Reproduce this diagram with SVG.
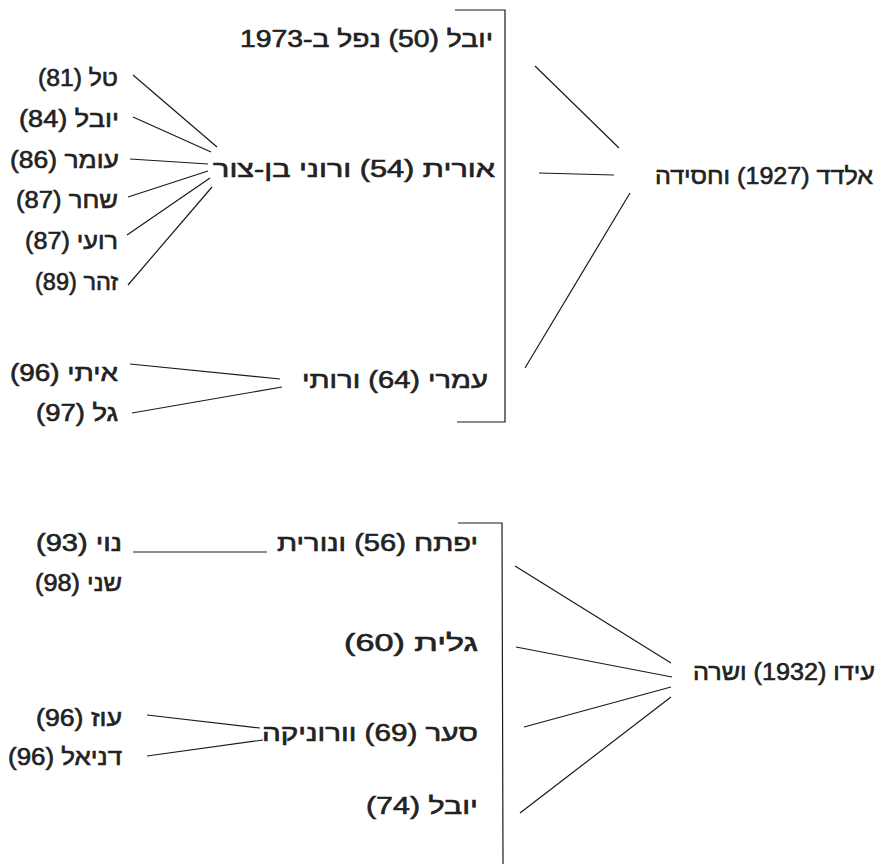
<svg xmlns="http://www.w3.org/2000/svg" width="882" height="864" viewBox="0 0 882 864">
<style>
text{font-family:"Liberation Sans","DejaVu Sans",sans-serif;font-size:23px;font-weight:normal;fill:#222;stroke:#222;stroke-width:0.6;direction:rtl;text-anchor:start;unicode-bidi:embed}
.big{font-size:24px}
line,polyline{stroke:#1a1a1a;stroke-width:1.2;fill:none}
</style>
<rect width="882" height="864" fill="#fff"/>
<g id="connectors">
<polyline points="455,10 505,10 505,422 457,422"/>
<line x1="535" y1="66" x2="619" y2="148"/>
<line x1="539" y1="173" x2="614" y2="175"/>
<line x1="525" y1="368" x2="630" y2="193"/>
<line x1="133" y1="75" x2="217" y2="147"/>
<line x1="133" y1="117" x2="211" y2="152"/>
<line x1="130" y1="159" x2="208" y2="164"/>
<line x1="128" y1="197" x2="208" y2="171"/>
<line x1="127" y1="235" x2="210" y2="178"/>
<line x1="128" y1="285" x2="212" y2="187"/>
<line x1="130" y1="364" x2="280" y2="379"/>
<line x1="132" y1="413" x2="282" y2="387"/>
<polyline points="458,523 502,523 503,864"/>
<line x1="515" y1="566" x2="671" y2="663"/>
<line x1="516" y1="647" x2="672" y2="677"/>
<line x1="524" y1="727" x2="671" y2="687"/>
<line x1="520" y1="813" x2="671" y2="697"/>
<line x1="133" y1="552" x2="267" y2="552"/>
<line x1="147" y1="715" x2="260" y2="728"/>
<line x1="147" y1="756" x2="263" y2="740"/>
</g>
<g id="n-eldad"><text x="873" y="184" class="big" textLength="218" lengthAdjust="spacingAndGlyphs">אלדד (1927) וחסידה</text></g>
<g id="n-yuval50"><text x="493" y="47" textLength="253" lengthAdjust="spacingAndGlyphs">יובל (50) נפל ב-1973</text></g>
<g id="n-orit"><text x="495" y="177" textLength="282" lengthAdjust="spacingAndGlyphs">אורית (54) ורוני בן-צור</text></g>
<g id="n-omri"><text x="488" y="388" textLength="186" lengthAdjust="spacingAndGlyphs">עמרי (64) ורותי</text></g>
<g id="n-tal"><text x="118" y="86" textLength="80" lengthAdjust="spacingAndGlyphs">טל (81)</text></g>
<g id="n-yuval84"><text x="119" y="127" textLength="100" lengthAdjust="spacingAndGlyphs">יובל (84)</text></g>
<g id="n-omer"><text x="119" y="168" textLength="109" lengthAdjust="spacingAndGlyphs">עומר (86)</text></g>
<g id="n-shahar"><text x="118" y="208" textLength="102" lengthAdjust="spacingAndGlyphs">שחר (87)</text></g>
<g id="n-roi"><text x="118" y="249" textLength="93" lengthAdjust="spacingAndGlyphs">רועי (87)</text></g>
<g id="n-zohar"><text x="118" y="290" textLength="83" lengthAdjust="spacingAndGlyphs">זהר (89)</text></g>
<g id="n-itai"><text x="118" y="381" textLength="108" lengthAdjust="spacingAndGlyphs">איתי (96)</text></g>
<g id="n-gal"><text x="118" y="421" textLength="82" lengthAdjust="spacingAndGlyphs">גל (97)</text></g>
<g id="n-ido"><text x="875" y="680" textLength="182" lengthAdjust="spacingAndGlyphs">עידו (1932) ושרה</text></g>
<g id="n-yiftah"><text x="478" y="551" textLength="201" lengthAdjust="spacingAndGlyphs">יפתח (56) ונורית</text></g>
<g id="n-galit"><text x="478" y="651" textLength="134" lengthAdjust="spacingAndGlyphs">גלית (60)</text></g>
<g id="n-saar"><text x="478" y="741" textLength="216" lengthAdjust="spacingAndGlyphs">סער (69) וורוניקה</text></g>
<g id="n-yuval74"><text x="478" y="814" textLength="112" lengthAdjust="spacingAndGlyphs">יובל (74)</text></g>
<g id="n-noy"><text x="122" y="551" textLength="86" lengthAdjust="spacingAndGlyphs">נוי (93)</text></g>
<g id="n-shani"><text x="122" y="591" textLength="87" lengthAdjust="spacingAndGlyphs">שני (98)</text></g>
<g id="n-oz"><text x="122" y="726" textLength="86" lengthAdjust="spacingAndGlyphs">עוז (96)</text></g>
<g id="n-daniel"><text x="122" y="765" textLength="114" lengthAdjust="spacingAndGlyphs">דניאל (96)</text></g>
</svg>
